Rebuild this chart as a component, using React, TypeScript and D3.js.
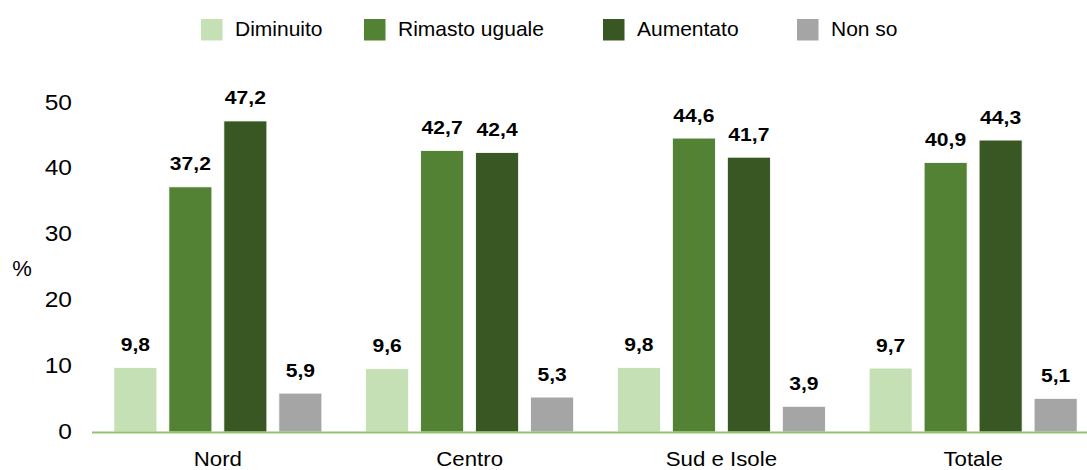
import React from "react";
import * as d3 from "d3";

const categories = ["Nord", "Centro", "Sud e Isole", "Totale"];
const series = ["Diminuito", "Rimasto uguale", "Aumentato", "Non so"];
const diminuito = [9.8, 9.6, 9.8, 9.7];
const rimastoUguale = [37.2, 42.7, 44.6, 40.9];
const aumentato = [47.2, 42.4, 41.7, 44.3];
const nonSo = [5.9, 5.3, 3.9, 5.1];
const yTicks = [0, 10, 20, 30, 40, 50];
const colors = ["#C5E0B4", "#548235", "#385723", "#A5A5A5"];

const values = [diminuito, rimastoUguale, aumentato, nonSo];

const W = 1087;
const H = 470;

export default function App() {
  const x0 = d3.scaleBand<string>().domain(categories).range([92, 1099]).paddingInner(0).paddingOuter(0);
  const x1 = d3
    .scaleBand<string>()
    .domain(series)
    .range([0, x0.bandwidth()])
    .paddingInner(0.218)
    .paddingOuter(0.398);
  const y = d3.scaleLinear().domain([0, 50]).range([432, 102.5]);
  const fmt = (v: number) => d3.format(".1f")(v).replace(".", ",");

  const legendX = [201, 364, 603, 797];

  return (
    <svg
      width={W}
      height={H}
      style={{ position: "absolute", left: 0, top: 0, background: "#fff" }}
      fontFamily="'Liberation Sans', Arial, sans-serif"
    >
      {/* legend */}
      {series.map((s, i) => (
        <g key={s}>
          <rect x={legendX[i]} y={19} width={21.5} height={21.5} fill={colors[i]} />
          <text x={legendX[i] + 34} y={35.5} fontSize={21} fill="#000">
            {s}
          </text>
        </g>
      ))}

      {/* y ticks */}
      {yTicks.map((t) => (
        <text
          key={t}
          transform={`translate(72,${y(t) - 0.5}) scale(1.14,1)`}
          dy="0.35em"
          textAnchor="end"
          fontSize={21.5}
          fill="#000"
        >
          {t}
        </text>
      ))}
      <text x={22} y={268.5} dy="0.35em" textAnchor="middle" fontSize={22} fill="#000">
        %
      </text>

      {/* bars */}
      {categories.map((c, ci) => (
        <g key={c} transform={`translate(${x0(c)},0)`}>
          {series.map((s, si) => {
            const v = values[si][ci];
            const bx = x1(s)!;
            const bw = x1.bandwidth();
            return (
              <g key={s}>
                <rect
                  x={bx}
                  y={y(v)}
                  width={bw}
                  height={y(0) - y(v)}
                  fill={colors[si]}
                  stroke="#fff"
                  strokeWidth={0.8}
                />
                <text
                  transform={`translate(${bx + bw / 2},${y(v) - 16.5}) scale(1.14,1)`}
                  textAnchor="middle"
                  fontSize={18.5}
                  fontWeight="bold"
                  fill="#000"
                >
                  {fmt(v)}
                </text>
              </g>
            );
          })}
          <text
            transform={`translate(${x0.bandwidth() / 2},465.5) scale(1.06,1)`}
            textAnchor="middle"
            fontSize={21}
            fill="#000"
          >
            {c}
          </text>
        </g>
      ))}

      {/* x axis line */}
      <line x1={92} x2={W} y1={432.5} y2={432.5} stroke="#92C46F" strokeWidth={2} />
    </svg>
  );
}
